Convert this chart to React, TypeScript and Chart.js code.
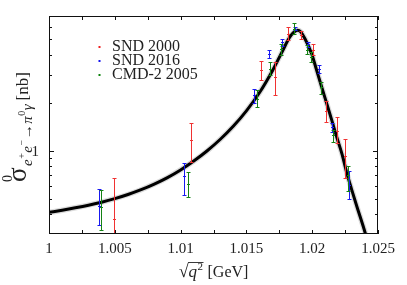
import React, { useEffect, useRef } from "react";
import { Chart, registerables } from "chart.js";
Chart.register(...registerables);

const FONT = "'Liberation Serif', 'Times New Roman', serif";

// Fit curve (central values)
const curveX = [1.0, 1.001, 1.002, 1.003, 1.004, 1.005, 1.006, 1.007, 1.008, 1.009, 1.01, 1.011, 1.012, 1.013, 1.014, 1.015, 1.016, 1.017, 1.0175, 1.0178, 1.0181, 1.0184, 1.0187, 1.0189, 1.0191, 1.01945, 1.01996, 1.02034, 1.02072, 1.0211, 1.02148, 1.02186, 1.02226, 1.02264, 1.023, 1.0234, 1.024, 1.0245];
const curveY = [0.41, 0.423, 0.438, 0.455, 0.475, 0.5, 0.531, 0.569, 0.617, 0.678, 0.757, 0.861, 0.995, 1.175, 1.422, 1.778, 2.317, 3.199, 3.85, 4.31, 4.84, 5.31, 5.62, 5.69, 5.6, 5.04, 4.06, 3.19, 2.51, 1.98, 1.56, 1.22, 0.955, 0.72, 0.57, 0.445, 0.31, 0.22];

// SND 2000
const snd2000X = [1.00496, 1.01079, 1.01609, 1.01717, 1.01818, 1.01915, 1.02008, 1.02105, 1.02186, 1.02249];
const snd2000Y = [0.37, 1.17, 3.19, 2.9, 5.43, 5.3, 4.3, 1.77, 1.33, 0.93];
const snd2000Lo = [0.2, 0.85, 2.77, 2.23, 4.92, 5.04, 3.96, 1.52, 1.11, 0.67];
const snd2000Hi = [0.67, 1.5, 3.65, 3.6, 5.95, 5.6, 4.65, 2.04, 1.62, 1.18];

// SND 2016
const snd2016X = [1.0038, 1.01028, 1.01558, 1.01674, 1.01768, 1.01869, 1.0197, 1.02054, 1.0215, 1.02282];
const snd2016Y = [0.45, 0.69, 2.23, 4.02, 4.8, 5.83, 4.64, 3.24, 1.4, 0.61];
const snd2016Lo = [0.34, 0.53, 2.0, 3.83, 4.57, 5.68, 4.46, 3.05, 1.31, 0.5];
const snd2016Hi = [0.577, 0.834, 2.45, 4.3, 5.04, 6.0, 4.8, 3.43, 1.49, 0.746];

// CMD-2 2005
const cmd2005X = [1.00393, 1.01054, 1.01578, 1.01679, 1.01763, 1.01864, 1.01958, 1.0199, 1.02065, 1.0216, 1.02275];
const cmd2005Y = [0.44, 0.62, 2.12, 3.27, 4.37, 5.83, 4.3, 3.85, 2.5, 1.25, 0.705];
const cmd2005Lo = [0.316, 0.515, 1.88, 2.97, 3.96, 5.41, 4.06, 3.6, 2.28, 1.14, 0.56];
const cmd2005Hi = [0.563, 0.73, 2.4, 3.6, 4.7, 6.3, 4.6, 4.15, 2.7, 1.35, 0.8];

const seriesNames = ["SND 2000", "SND 2016", "CMD-2 2005"];
const seriesColors = ["rgb(240,30,30)", "rgb(20,20,240)", "rgb(10,130,10)"];
const barColors = ["rgb(240,50,50)", "rgb(25,25,240)", "rgb(20,130,20)"];

const xTickValues = [1.0, 1.0025, 1.005, 1.0075, 1.01, 1.0125, 1.015, 1.0175, 1.02, 1.0225, 1.025];
const xLabelValues = [1.0, 1.005, 1.01, 1.015, 1.02, 1.025];
const xLabels = ["1", "1.005", "1.01", "1.015", "1.02", "1.025"];
const yMinorTicks = [0.4, 0.5, 0.6, 0.7, 0.8, 0.9, 2, 3, 4, 5, 6];
const yMajorTicks = [1];
const yLabels = ["1"];

export default function App() {
  const ref = useRef<HTMLCanvasElement>(null);
  useEffect(() => {
    const canvas = ref.current!;
    const seriesX = [snd2000X, snd2016X, cmd2005X];
    const seriesY = [snd2000Y, snd2016Y, cmd2005Y];
    const seriesLo = [snd2000Lo, snd2016Lo, cmd2005Lo];
    const seriesHi = [snd2000Hi, snd2016Hi, cmd2005Hi];

    const errorBars = {
      id: "errorBars",
      afterDatasetsDraw(chart: any) {
        const { ctx, chartArea: a, scales } = chart;
        const xs = scales.x, ys = scales.y;
        ctx.save();
        ctx.beginPath();
        ctx.rect(a.left, a.top, a.right - a.left, a.bottom - a.top);
        ctx.clip();
        ctx.lineWidth = 1;
        for (let s = 0; s < 3; s++) {
          ctx.strokeStyle = barColors[s];
          for (let i = 0; i < seriesX[s].length; i++) {
            const px = Math.round(xs.getPixelForValue(seriesX[s][i])) + 0.5;
            const pt = Math.round(ys.getPixelForValue(seriesHi[s][i])) + 0.5;
            const pb = Math.round(ys.getPixelForValue(seriesLo[s][i])) + 0.5;
            const pc = Math.round(ys.getPixelForValue(seriesY[s][i])) + 0.5;
            ctx.beginPath();
            ctx.moveTo(px, pt);
            ctx.lineTo(px, pb);
            ctx.moveTo(px - 2, pt);
            ctx.lineTo(px + 2, pt);
            ctx.moveTo(px - 2, pb);
            ctx.lineTo(px + 2, pb);
            ctx.moveTo(px - 1.5, pc);
            ctx.lineTo(px + 1.5, pc);
            ctx.stroke();
          }
        }
        ctx.restore();
      },
    };

    const decor = {
      id: "decor",
      afterDraw(chart: any) {
        const { ctx, chartArea: a, scales } = chart;
        const xs = scales.x, ys = scales.y;
        ctx.save();
        ctx.strokeStyle = "#111";
        ctx.lineWidth = 1;
        ctx.strokeRect(a.left + 0.5, a.top + 0.5, a.right - a.left - 1, a.bottom - a.top - 1);
        ctx.beginPath();
        for (const v of xTickValues) {
          const px = Math.round(xs.getPixelForValue(v)) + 0.5;
          ctx.moveTo(px, a.bottom);
          ctx.lineTo(px, a.bottom - 4);
          ctx.moveTo(px, a.top);
          ctx.lineTo(px, a.top + 4);
        }
        for (const v of yMinorTicks) {
          const py = Math.round(ys.getPixelForValue(v)) + 0.5;
          ctx.moveTo(a.left, py);
          ctx.lineTo(a.left + 3, py);
          ctx.moveTo(a.right, py);
          ctx.lineTo(a.right - 3, py);
        }
        for (const v of yMajorTicks) {
          const py = Math.round(ys.getPixelForValue(v)) + 0.5;
          ctx.moveTo(a.left, py);
          ctx.lineTo(a.left + 5, py);
          ctx.moveTo(a.right, py);
          ctx.lineTo(a.right - 5, py);
        }
        ctx.stroke();

        // tick labels
        ctx.fillStyle = "#222";
        ctx.font = `15px ${FONT}`;
        ctx.textAlign = "center";
        ctx.textBaseline = "alphabetic";
        xLabelValues.forEach((v, i) => {
          ctx.fillText(xLabels[i], xs.getPixelForValue(v), a.bottom + 19);
        });
        ctx.textAlign = "right";
        ctx.textBaseline = "middle";
        yMajorTicks.forEach((v, i) => {
          ctx.fillText(yLabels[i], a.left - 10, ys.getPixelForValue(v) + 1);
        });

        // legend
        ctx.font = `16px ${FONT}`;
        ctx.textAlign = "left";
        ctx.textBaseline = "middle";
        seriesNames.forEach((n, i) => {
          const ly = 47 + i * 14;
          ctx.fillStyle = seriesColors[i];
          ctx.fillRect(98.5, ly - 1, 2, 2);
          ctx.fillStyle = "#222";
          ctx.fillText(n, 112, ly);
        });

        // x title: sqrt(q^2) [GeV]
        ctx.textBaseline = "alphabetic";
        const cx = (a.left + a.right) / 2;
        const by = 277;
        ctx.font = `18px ${FONT}`;
        const wS = ctx.measureText("\u221A").width;
        ctx.font = `italic 17px ${FONT}`;
        const wQ = ctx.measureText("q").width;
        ctx.font = `11px ${FONT}`;
        const w2 = ctx.measureText("2").width;
        ctx.font = `16px ${FONT}`;
        const wG = ctx.measureText(" [GeV]").width;
        const x0 = cx - (wS + wQ + w2 + 1 + wG) / 2;
        ctx.fillStyle = "#222";
        ctx.font = `18px ${FONT}`;
        ctx.fillText("\u221A", x0, by);
        const sx = x0 + wS;
        ctx.beginPath();
        ctx.lineWidth = 0.9;
        ctx.strokeStyle = "#222";
        ctx.moveTo(sx - 0.5, by - 14.5);
        ctx.lineTo(sx + wQ + w2 + 1, by - 14.5);
        ctx.stroke();
        ctx.font = `italic 17px ${FONT}`;
        ctx.fillText("q", sx, by);
        ctx.font = `11px ${FONT}`;
        ctx.fillText("2", sx + wQ + 0.5, by - 7);
        ctx.font = `16px ${FONT}`;
        ctx.fillText(" [GeV]", sx + wQ + w2 + 1, by);

        // y title
        ctx.save();
        ctx.translate(26, 182);
        ctx.rotate(-Math.PI / 2);
        let tx = 0;
        const put = (t: string, font: string, dy: number) => {
          ctx.font = font;
          ctx.fillText(t, tx, dy);
          return ctx.measureText(t).width;
        };
        const w0 = put("\u03C3", `27px ${FONT}`, 0);
        put("0", `14px ${FONT}`, -14);
        tx += w0 + 1.5;
        tx += put("e", `italic 15px ${FONT}`, 6) + 0.5;
        tx += put("+", `10px ${FONT}`, -1) + 0.5;
        tx += put("e", `italic 15px ${FONT}`, 6) + 0.5;
        tx += put("\u2212", `10px ${FONT}`, -1) + 0.5;
        tx += put("\u2192", `15px ${FONT}`, 6) + 0.5;
        tx += put("\u03C0", `italic 15px ${FONT}`, 6) + 0.5;
        tx += put("0", `10px ${FONT}`, -1) + 0.5;
        tx += put("\u03B3", `italic 15px ${FONT}`, 6);
        tx += 4;
        put("[nb]", `17px ${FONT}`, 2);
        ctx.restore();
        ctx.restore();
      },
    };

    const scatterSets = [0, 1, 2].map((s) => ({
      type: "scatter" as const,
      label: seriesNames[s],
      data: seriesX[s].map((v, i) => ({ x: v, y: seriesY[s][i] })),
      pointRadius: 0,
      borderColor: barColors[s],
      backgroundColor: barColors[s],
      showLine: false,
      order: 1,
    }));

    const chart = new Chart(canvas, {
      type: "line",
      data: {
        datasets: [
          {
            label: "band",
            data: curveX.map((v, i) => ({ x: v, y: curveY[i] })),
            borderColor: "rgba(0,0,0,0.14)",
            borderWidth: 5.5,
            pointRadius: 0,
            cubicInterpolationMode: "monotone",
            fill: false,
            order: 4,
          } as any,
          {
            label: "fit",
            data: curveX.map((v, i) => ({ x: v, y: curveY[i] })),
            borderColor: "#000",
            borderWidth: 3,
            pointRadius: 0,
            cubicInterpolationMode: "monotone",
            fill: false,
            order: 3,
          } as any,
          ...(scatterSets as any),
        ],
      },
      options: {
        animation: false,
        responsive: true,
        maintainAspectRatio: false,
        layout: { padding: { left: 49, right: 29, top: 16, bottom: 51 } },
        plugins: { legend: { display: false }, tooltip: { enabled: false } },
        scales: {
          x: { type: "linear", min: 1.0, max: 1.025, display: false },
          y: { type: "logarithmic", min: 0.3, max: 7, display: false },
        },
      },
      plugins: [errorBars, decor],
    });
    return () => chart.destroy();
  }, []);
  return (
    <div style={{ position: "absolute", left: 0, top: 0, width: 407, height: 285 }}>
      <canvas ref={ref} />
    </div>
  );
}
